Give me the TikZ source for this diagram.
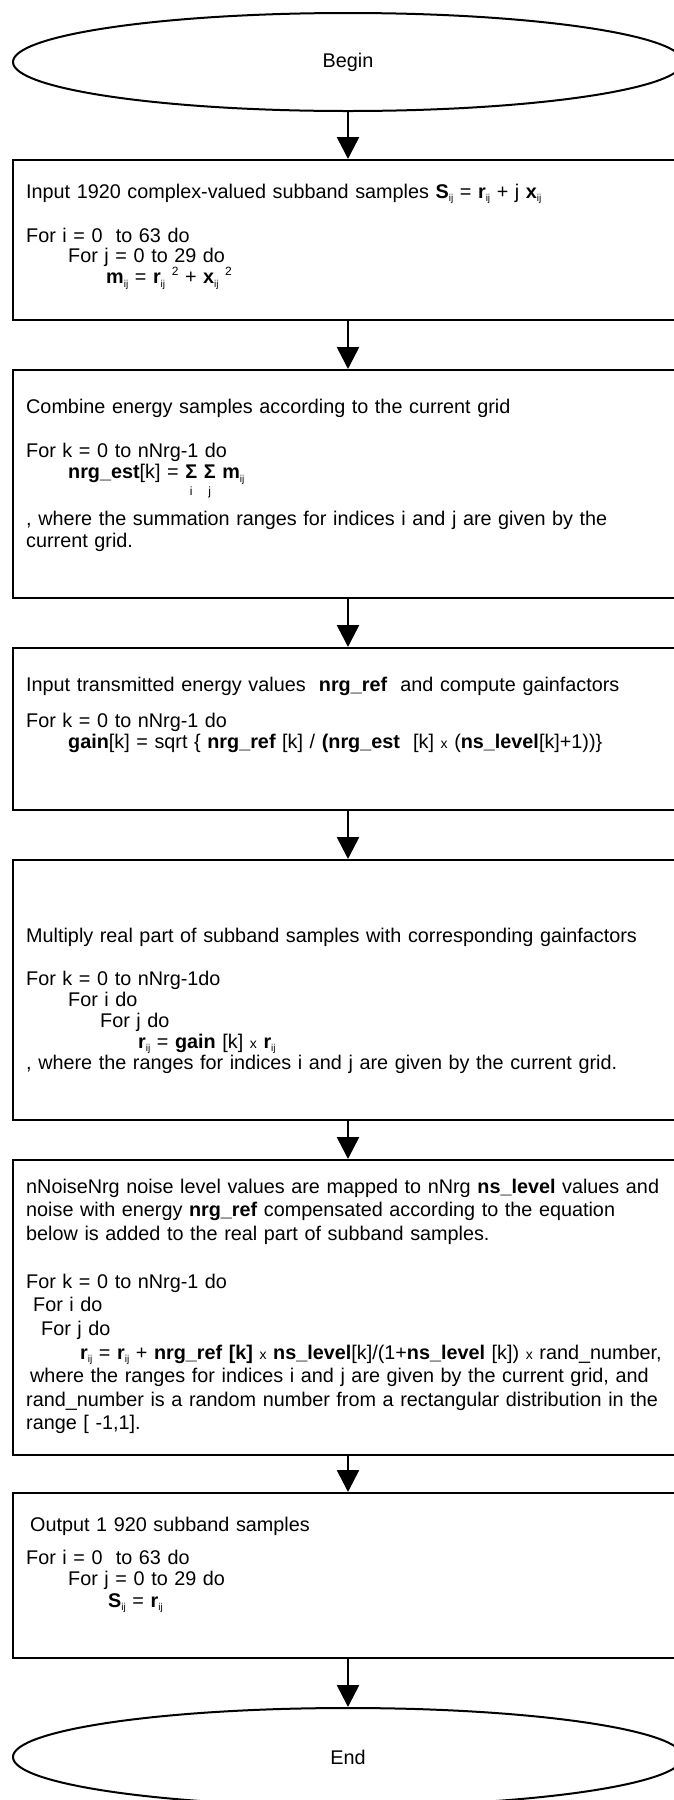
\documentclass[tikz,border=0pt]{standalone}
\usepackage{fontspec}
\setmainfont{Liberation Sans}
\usetikzlibrary{arrows.meta,shapes.geometric}

% small lowered "ij" index
\newcommand\ijx{\raisebox{-0.35ex}{\fontsize{10}{10}\selectfont ij}}
% raised square
\newcommand\sqr{\raisebox{0.8ex}{\fontsize{12}{12}\selectfont 2}}
% small multiplication cross
\newcommand\mul{{\fontsize{14}{14}\selectfont x}}
% bold sigma with its index set underneath
\newcommand\sumover[1]{\ooalign{\hfil\textbf{Σ}\hfil\cr\hfil\smash{\raisebox{-17pt}{\fontsize{12}{12}\selectfont #1}}\hfil\cr}}

\begin{document}
\begin{tikzpicture}[x=1pt,y=-1pt,
  flow/.style={draw,line width=2pt,minimum width=670pt,inner sep=0pt},
  term/.style={draw,ellipse,line width=2pt,minimum width=670pt,minimum height=98pt,
               inner sep=0pt,font=\fontsize{19.8}{24}\selectfont},
  txt/.style={anchor=base west,inner sep=0pt,align=left,text width=660pt},
  arr/.style={line width=2.6pt,-{Triangle[width=22pt,length=22pt]}}]

\useasboundingbox (0,0) rectangle (674,1800);
\fill[white] (0,0) rectangle (674,1800);

% terminals and process boxes
\node[term] (start) at (348,62) {Begin};
\node[flow,minimum height=160pt] (b1) at (348,240) {};
\node[flow,minimum height=228pt] (b2) at (348,484) {};
\node[flow,minimum height=162pt] (b3) at (348,729) {};
\node[flow,minimum height=260pt] (b4) at (348,990) {};
\node[flow,minimum height=295pt] (b5) at (348,1307.5) {};
\node[flow,minimum height=165pt] (b6) at (348,1575.5) {};
\node[term] (stop) at (348,1757) {End};

% connectors
\draw[arr] (start.south) -- (b1.north);
\draw[arr] (b1.south) -- (b2.north);
\draw[arr] (b2.south) -- (b3.north);
\draw[arr] (b3.south) -- (b4.north);
\draw[arr] (b4.south) -- (b5.north);
\draw[arr] (b5.south) -- (b6.north);
\draw[arr] (b6.south) -- (stop.north);

% box contents
\node[txt,font=\fontsize{19.8}{20}\selectfont] (t1) at (26,198) {%
Input 1920 complex-valued subband samples \textbf{S}\ijx{} = \textbf{r}\ijx{} + j \textbf{x}\ijx\\[23pt]
For i = 0\ \ to 63 do\\
\hspace*{42pt}For j = 0 to 29 do\\
\hspace*{80pt}\textbf{m}\ijx{} = \textbf{r}\ijx{} \sqr{} + \textbf{x}\ijx{} \sqr};

\node[txt,font=\fontsize{19.8}{21.5}\selectfont] (t2) at (26,413) {%
Combine energy samples according to the current grid\\[22.5pt]
For k = 0 to nNrg-1 do\\
\hspace*{42pt}\textbf{nrg\_est}[k] = \sumover{i} \sumover{j} \textbf{m}\ijx\\[25.5pt]
, where the summation ranges for indices i and j are given by the\\
current grid.};

\node[txt,font=\fontsize{19.8}{21}\selectfont] (t3) at (26,691) {%
Input transmitted energy values\ \ \textbf{nrg\_ref}\ \ and compute gainfactors\\[15pt]
For k = 0 to nNrg-1 do\\
\hspace*{42pt}\makebox[552pt][s]{\textbf{gain}[k] = sqrt \{ \textbf{nrg\_ref} [k] / \textbf{(nrg\_est}\ \ [k] \mul{} (\textbf{ns\_level}[k]+1))\}}};

\node[txt,font=\fontsize{19.8}{21}\selectfont] (t4) at (26,942) {%
Multiply real part of subband samples with corresponding gainfactors\\[22pt]
For k = 0 to nNrg-1do\\
\hspace*{42pt}For i do\\
\hspace*{74pt}For j do\\
\hspace*{112pt}\makebox[149pt][s]{\textbf{r}\ijx{} = \textbf{gain} [k] \mul{} \textbf{r}\ijx}\\
, where the ranges for indices i and j are given by the current grid.};

\node[txt,font=\fontsize{19.8}{23.6}\selectfont] (t5) at (26,1193) {%
nNoiseNrg noise level values are mapped to nNrg \textbf{ns\_level} values and\\
noise with energy \textbf{nrg\_ref} compensated according to the equation\\
below is added to the real part of subband samples.\\[24.4pt]
For k = 0 to nNrg-1 do\\
\hspace*{7pt}For i do\\
\hspace*{15pt}For j do\\
\hspace*{54pt}\makebox[573pt][s]{\textbf{r}\ijx{} = \textbf{r}\ijx{} + \textbf{nrg\_ref [k]} \mul{} \textbf{ns\_level}[k]/(1+\textbf{ns\_level} [k]) \mul{} rand\_number,}\\
\hspace*{4pt}where the ranges for indices i and j are given by the current grid, and\\
rand\_number is a random number from a rectangular distribution in the\\
range [ -1,1].};

\node[txt,font=\fontsize{19.8}{21.5}\selectfont] (t6) at (26,1531) {%
\hspace*{4pt}Output 1 920 subband samples\\[11.5pt]
For i = 0\ \ to 63 do\\
\hspace*{42pt}For j = 0 to 29 do\\
\hspace*{82pt}\textbf{S}\ijx{} = \textbf{r}\ijx};

\end{tikzpicture}
\end{document}
